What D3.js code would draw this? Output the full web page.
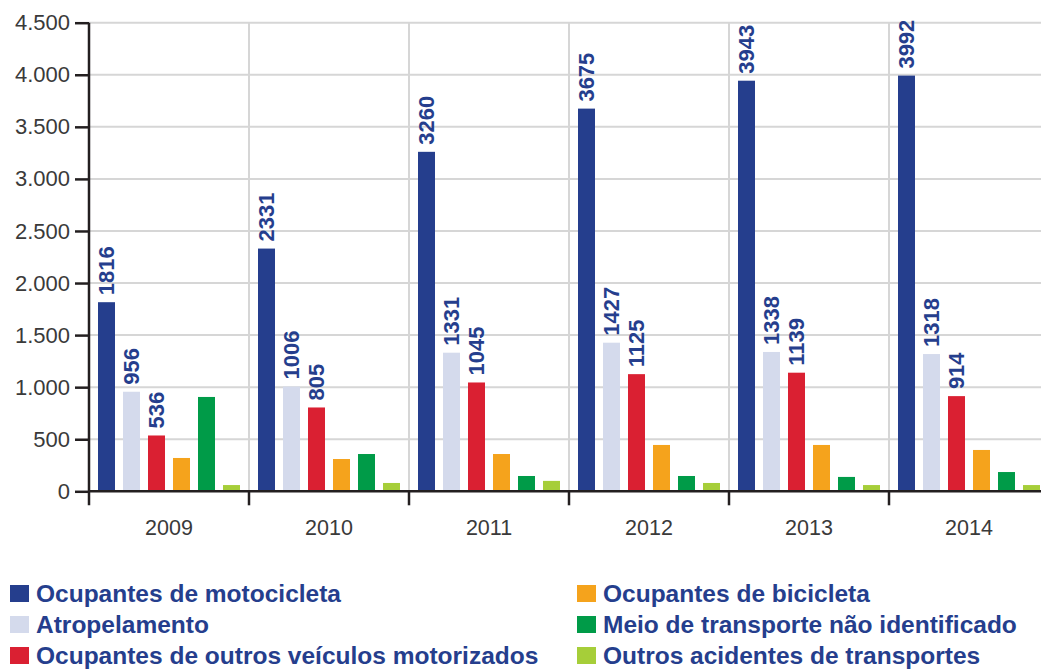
<!DOCTYPE html>
<html>
<head>
<meta charset="utf-8">
<script src="https://cdn.jsdelivr.net/npm/d3@7"></script>
<style>
  html, body { margin: 0; padding: 0; background: #fff; }
  svg { display: block; font-family: "Liberation Sans", Arial, Helvetica, sans-serif; }
</style>
</head>
<body>
<svg id="chart" width="1041" height="670"></svg>
<script>
// Deaths by transport-accident type, per year
const years = ["2009", "2010", "2011", "2012", "2013", "2014"];
const seriesNames = [
  "Ocupantes de motocicleta",
  "Atropelamento",
  "Ocupantes de outros veículos motorizados",
  "Ocupantes de bicicleta",
  "Meio de transporte não identificado",
  "Outros acidentes de transportes"
];
const motocicleta   = [1816, 2331, 3260, 3675, 3943, 3992];
const atropelamento = [956, 1006, 1331, 1427, 1338, 1318];
const outrosVeiculos = [536, 805, 1045, 1125, 1139, 914];
const bicicleta     = [320, 310, 358, 445, 445, 397];
const naoIdentificado = [906, 358, 147, 147, 138, 185];
const outrosAcidentes = [60, 80, 100, 80, 60, 60];
const seriesValues = [motocicleta, atropelamento, outrosVeiculos, bicicleta, naoIdentificado, outrosAcidentes];
const labelledSeries = [0, 1, 2];
const colors = ["#253e8d", "#d4daec", "#da2032", "#f5a31c", "#009b48", "#a6ce39"];
const yTicks = [0, 500, 1000, 1500, 2000, 2500, 3000, 3500, 4000, 4500];

const svg = d3.select("#chart");
const plot = { left: 89, right: 1049, top: 22.7, bottom: 491.3 };

const x0 = d3.scaleBand().domain(years).range([plot.left, plot.right]).paddingInner(0).paddingOuter(0);
const x1 = d3.scaleBand().domain(d3.range(seriesNames.length)).range([0, x0.bandwidth()])
  .paddingInner(0.32).paddingOuter(0.36);
const y = d3.scaleLinear().domain([0, 4500]).range([plot.bottom, plot.top]);

const numFmt = d3.formatLocale({ decimal: ",", thousands: ".", grouping: [3], currency: ["R$", ""] }).format(",");

// grid: horizontal lines
svg.append("g")
  .selectAll("line").data(yTicks.filter(d => d > 0)).join("line")
  .attr("x1", plot.left).attr("x2", plot.right)
  .attr("y1", d => y(d)).attr("y2", d => y(d))
  .attr("stroke", "#d6d6d6").attr("stroke-width", 2);

// grid: vertical lines at group boundaries
svg.append("g")
  .selectAll("line").data(years.slice(1)).join("line")
  .attr("x1", d => x0(d)).attr("x2", d => x0(d))
  .attr("y1", plot.top).attr("y2", plot.bottom)
  .attr("stroke", "#d6d6d6").attr("stroke-width", 2);

// bars
const groups = svg.append("g").selectAll("g").data(years).join("g")
  .attr("transform", d => `translate(${x0(d)},0)`);

groups.selectAll("rect")
  .data((yr, i) => seriesValues.map((vals, s) => ({ s, v: vals[i] })))
  .join("rect")
  .attr("x", d => x1(d.s))
  .attr("width", x1.bandwidth())
  .attr("y", d => y(d.v))
  .attr("height", d => y(0) - y(d.v))
  .attr("fill", d => colors[d.s]);

// value labels for the first three series
groups.selectAll("text.val")
  .data((yr, i) => labelledSeries.map(s => ({ s, v: seriesValues[s][i] })))
  .join("text")
  .attr("class", "val")
  .attr("transform", d => `translate(${x1(d.s) + x1.bandwidth() / 2},${y(d.v) - 7}) rotate(-90)`)
  .attr("dy", "0.36em")
  .attr("text-anchor", "start")
  .attr("font-size", 22)
  .attr("font-weight", "bold")
  .attr("fill", "#253e8d")
  .text(d => d.v);

// y axis
const yAxis = d3.axisLeft(y).tickValues(yTicks).tickSize(14).tickPadding(5).tickFormat(numFmt);
const gy = svg.append("g").attr("transform", `translate(${plot.left},0)`).call(yAxis);
gy.select(".domain").remove();
gy.selectAll(".tick line").attr("stroke", "#231f20").attr("stroke-width", 2.5);
gy.selectAll(".tick text").attr("font-size", 22).attr("fill", "#3a3a3a")
  .attr("font-family", "'Liberation Sans', Arial, sans-serif");
svg.append("line")
  .attr("x1", plot.left).attr("x2", plot.left)
  .attr("y1", plot.top).attr("y2", plot.bottom + 14)
  .attr("stroke", "#231f20").attr("stroke-width", 2.5);

// x axis: baseline, boundary ticks and year labels
svg.append("line")
  .attr("x1", plot.left).attr("x2", plot.right)
  .attr("y1", plot.bottom).attr("y2", plot.bottom)
  .attr("stroke", "#231f20").attr("stroke-width", 2.5);
svg.append("g").selectAll("line").data(years.slice(1)).join("line")
  .attr("x1", d => x0(d)).attr("x2", d => x0(d))
  .attr("y1", plot.bottom).attr("y2", plot.bottom + 14)
  .attr("stroke", "#231f20").attr("stroke-width", 2.5);
svg.append("g").selectAll("text").data(years).join("text")
  .attr("x", d => x0(d) + x0.bandwidth() / 2)
  .attr("y", plot.bottom + 44)
  .attr("text-anchor", "middle")
  .attr("font-size", 21.5)
  .attr("fill", "#3a3a3a")
  .text(d => d);

// legend: two columns of three rows
const legendCols = [10, 577];
const legendRows = [602, 633, 664];
const legend = svg.append("g").selectAll("g").data(seriesNames).join("g")
  .attr("transform", (d, i) => `translate(${legendCols[Math.floor(i / 3)]},${legendRows[i % 3]})`);
legend.append("rect")
  .attr("x", 0).attr("y", -17).attr("width", 19).attr("height", 17)
  .attr("fill", (d, i) => colors[i]);
legend.append("text")
  .attr("x", 26).attr("y", 0)
  .attr("font-size", 24.5)
  .attr("font-weight", "bold")
  .attr("fill", "#253e8d")
  .text(d => d);
</script>
</body>
</html>
